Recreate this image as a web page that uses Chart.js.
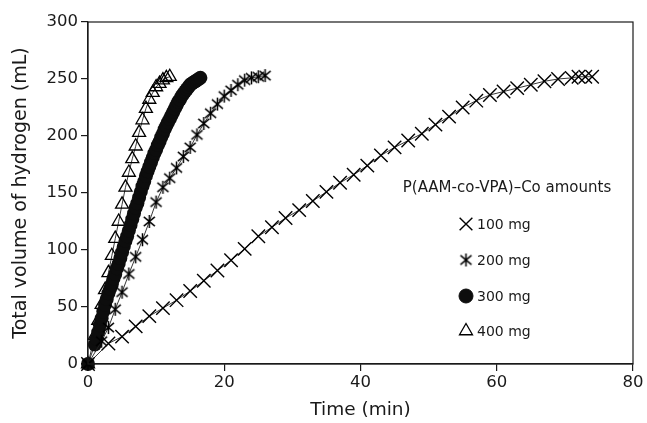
<!DOCTYPE html>
<html>
<head>
<meta charset="utf-8">
<script src="https://cdn.jsdelivr.net/npm/chart.js@4.4.0/dist/chart.umd.min.js"></script>
<style>
  html, body { margin: 0; padding: 0; background: #fff; }
  #wrap { width: 647px; height: 423px; }
</style>
</head>
<body>
<div id="wrap"><canvas id="myChart" width="647" height="423"></canvas></div>
<script>
// data
const t100 = [0, 3, 5, 7, 9, 11, 13, 15, 17, 19, 21, 23, 25, 27, 29, 31, 33, 35, 37, 39, 41, 43, 45, 47, 49, 51, 53, 55, 57, 59, 61, 63, 65, 67, 69, 71, 72, 73, 74];
const v100 = [0, 18, 24, 33, 42, 49, 56, 64, 73, 82, 91, 101, 112, 120, 128, 135, 143, 151, 159, 166, 174, 183, 190, 196, 202, 210, 217, 225, 231, 236, 239, 242, 245, 248, 250, 251, 252, 252, 252];

const t200 = [0, 2, 3, 4, 5, 6, 7, 8, 9, 10, 11, 12, 13, 14, 15, 16, 17, 18, 19, 20, 21, 22, 23, 24, 25, 26];
const v200 = [0, 20, 32, 48, 63, 79, 94, 109, 125, 142, 155, 163, 172, 182, 190, 201, 211, 220, 228, 235, 240, 245, 249, 251, 252, 253];

// 300 mg: dense readings, every quarter minute
const t300 = [0, 1, 1.25, 1.5, 1.75, 2, 2.25, 2.5, 2.75, 3, 3.25, 3.5, 3.75, 4, 4.25, 4.5, 4.75, 5, 5.25, 5.5, 5.75, 6, 6.25, 6.5, 6.75, 7, 7.25, 7.5, 7.75, 8, 8.25, 8.5, 8.75, 9, 9.25, 9.5, 9.75, 10, 10.25, 10.5, 10.75, 11, 11.25, 11.5, 11.75, 12, 12.25, 12.5, 12.75, 13, 13.25, 13.5, 13.75, 14, 14.25, 14.5, 14.75, 15, 15.25, 15.5, 15.75, 16, 16.25, 16.5];
const v300 = [0, 17, 22, 28, 34, 40, 46, 52, 57, 62, 66, 70, 75, 79, 84, 88, 93, 98, 103, 108, 112, 117, 122, 127, 132, 137, 141, 146, 151, 156, 160, 165, 169, 173, 177, 181, 185, 188, 192, 195, 199, 202, 206, 209, 212, 215, 218, 221, 224, 227, 230, 232, 235, 237, 239, 241, 243, 245, 246, 247, 248, 249, 250, 251];

const t400 = [0, 1, 1.5, 2, 2.5, 3, 3.5, 4, 4.5, 5, 5.5, 6, 6.5, 7, 7.5, 8, 8.5, 9, 9.5, 10, 10.5, 11, 11.5, 12];
const v400 = [0, 25, 38, 52, 65, 80, 95, 110, 125, 140, 155, 168, 180, 191, 203, 214, 224, 232, 238, 243, 246, 249, 251, 252];

const seriesLabels = ['100 mg', '200 mg', '300 mg', '400 mg'];
const legendTitle = 'P(AAM-co-VPA)\u2013Co amounts';
const xTicks = [0, 20, 40, 60, 80];
const yTicks = [0, 50, 100, 150, 200, 250, 300];

const ink = '#1a1a1a';
const fontFam = '"DejaVu Sans", Arial, Helvetica, sans-serif';

function toXY(ts, vs) {
  return ts.map((t, i) => ({ x: t, y: vs[i] }));
}

// 6-arm asterisk marker (x with a vertical bar)
function makeAsterisk(size) {
  const c = document.createElement('canvas');
  c.width = size; c.height = size;
  const g = c.getContext('2d');
  const m = size / 2, r = size / 2 - 1;
  g.strokeStyle = '#000';
  g.lineWidth = 1.5;
  g.beginPath();
  g.moveTo(m, m - r); g.lineTo(m, m + r);
  g.moveTo(m - r * 0.85, m - r * 0.7); g.lineTo(m + r * 0.85, m + r * 0.7);
  g.moveTo(m + r * 0.85, m - r * 0.7); g.lineTo(m - r * 0.85, m + r * 0.7);
  g.stroke();
  return c;
}
const asterisk = makeAsterisk(15);

const datasets = [
  {
    label: seriesLabels[0],
    data: toXY(t100, v100),
    pointStyle: 'crossRot',
    pointRadius: 9.5,
    pointBorderWidth: 1.4,
    pointBorderColor: '#000',
    pointBackgroundColor: 'rgba(0,0,0,0)'
  },
  {
    label: seriesLabels[1],
    data: toXY(t200, v200),
    pointStyle: asterisk,
    pointRadius: 7
  },
  {
    label: seriesLabels[2],
    data: toXY(t300, v300),
    pointStyle: 'circle',
    pointRadius: 7,
    pointBorderWidth: 0,
    pointBackgroundColor: '#0d0d0d',
    pointBorderColor: '#0d0d0d'
  },
  {
    label: seriesLabels[3],
    data: toXY(t400, v400),
    pointStyle: 'triangle',
    pointRadius: 7.5,
    pointBorderWidth: 1.3,
    pointBorderColor: '#000',
    pointBackgroundColor: 'rgba(0,0,0,0)'
  }
].map(ds => Object.assign({
  showLine: true,
  borderColor: '#222',
  borderWidth: 0.9,
  fill: false,
  clip: false
}, ds));

// box around the plot + legend block
const frameAndLegend = {
  id: 'frameAndLegend',
  afterDraw(chart) {
    const { ctx, chartArea } = chart;
    ctx.save();
    ctx.strokeStyle = ink;
    ctx.lineWidth = 1.2;
    ctx.strokeRect(chartArea.left, chartArea.top, chartArea.right - chartArea.left, chartArea.bottom - chartArea.top);

    ctx.fillStyle = ink;
    ctx.font = '15px ' + fontFam;
    ctx.textBaseline = 'middle';
    ctx.textAlign = 'center';
    ctx.fillText(legendTitle, 507, 188);

    const rows = [224, 260, 296, 331];
    const mx = 466, tx = 477;
    ctx.font = '14px ' + fontFam;
    ctx.textAlign = 'left';
    rows.forEach((y, i) => {
      const ds = chart.data.datasets[i];
      if (ds.pointStyle instanceof HTMLCanvasElement) {
        ctx.drawImage(ds.pointStyle, mx - ds.pointStyle.width / 2, y - ds.pointStyle.height / 2);
      } else {
        ctx.fillStyle = ds.pointBackgroundColor;
        ctx.strokeStyle = ds.pointBorderColor;
        ctx.lineWidth = ds.pointBorderWidth || 1;
        Chart.helpers.drawPoint(ctx, {
          pointStyle: ds.pointStyle,
          radius: ds.pointStyle === 'crossRot' ? 9 : ds.pointRadius,
          borderWidth: ds.pointBorderWidth || 1,
          rotation: 0
        }, mx, y);
      }
      ctx.fillStyle = ink;
      ctx.fillText(ds.label, tx, y + 1);
    });
    ctx.restore();
  }
};

const ctx = document.getElementById('myChart');
const myChartInstance = new Chart(ctx, {
  type: 'scatter',
  data: { datasets },
  options: {
    responsive: false,
    animation: false,
    layout: { padding: { top: 22, right: 14, left: 0, bottom: 0 } },
    plugins: {
      legend: { display: false },
      tooltip: { enabled: false }
    },
    scales: {
      x: {
        type: 'linear',
        min: 0,
        max: 80,
        afterBuildTicks: (s) => { s.ticks = xTicks.map(v => ({ value: v })); },
        afterFit: (s) => { s.height = 59; },
        ticks: { color: ink, font: { size: 16.5, family: fontFam }, padding: 2 },
        grid: { drawOnChartArea: false, drawTicks: true, tickLength: 7, color: ink, lineWidth: 1.2 },
        border: { color: ink, width: 1.2 },
        title: { display: true, text: 'Time (min)', color: ink, font: { size: 18.5, family: fontFam }, padding: { top: 0, bottom: 2 } }
      },
      y: {
        type: 'linear',
        min: 0,
        max: 300,
        afterBuildTicks: (s) => { s.ticks = yTicks.map(v => ({ value: v })); },
        afterFit: (s) => { s.width = 88; },
        ticks: { color: ink, font: { size: 16.5, family: fontFam }, padding: 3 },
        grid: { drawOnChartArea: false, drawTicks: true, tickLength: 7, color: ink, lineWidth: 1.2 },
        border: { color: ink, width: 1.2 },
        title: { display: true, text: 'Total volume of hydrogen (mL)', color: ink, font: { size: 19, family: fontFam }, padding: { top: 10, bottom: 0 } }
      }
    }
  },
  plugins: [frameAndLegend]
});
</script>
</body>
</html>
